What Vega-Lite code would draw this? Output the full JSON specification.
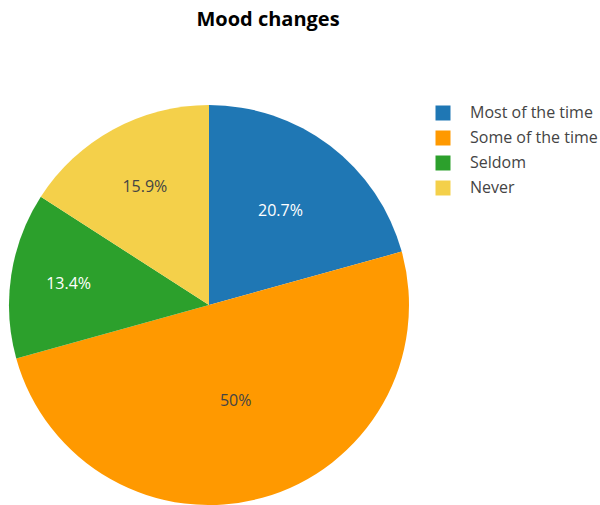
{
  "$schema": "https://vega.github.io/schema/vega-lite/v6.json",
  "width": 418,
  "height": 400,
  "padding": {"top": 10, "left": 0, "right": 0, "bottom": 0},
  "background": "white",
  "title": {"text": "Mood changes", "font": "Open Sans", "fontSize": 20, "fontWeight": "bold", "color": "#000", "anchor": "middle", "dx": 59, "offset": 75},
  "data": {"values": [
    {"category": "Most of the time", "percent": 20.7, "label": "20.7%", "rank": 1},
    {"category": "Some of the time", "percent": 50, "label": "50%", "rank": 2},
    {"category": "Seldom", "percent": 13.4, "label": "13.4%", "rank": 3},
    {"category": "Never", "percent": 15.9, "label": "15.9%", "rank": 4}
  ]},
  "encoding": {
    "theta": {"field": "percent", "type": "quantitative", "stack": true},
    "order": {"field": "rank", "type": "quantitative"}
  },
  "layer": [
    {
      "mark": {"type": "arc", "outerRadius": 200, "stroke": "white", "strokeWidth": 0},
      "encoding": {
        "color": {"field": "category", "type": "nominal",
          "scale": {"domain": ["Most of the time", "Some of the time", "Seldom", "Never"], "range": ["#1f77b4", "#ff9900", "#2ca02c", "#f4d04a"]},
          "legend": {"title": null, "orient": "right", "offset": 17, "symbolType": "square", "symbolSize": 225, "symbolStrokeWidth": 0, "symbolOpacity": 1, "labelFont": "Open Sans", "labelFontSize": 16, "labelColor": "#444", "labelOffset": 19, "rowPadding": 9, "padding": 0}
        }
      }
    },
    {
      "mark": {"type": "text", "font": "Open Sans", "fontSize": 16, "radius": {"expr": "datum.category === 'Most of the time' ? 118 : datum.category === 'Some of the time' ? 100 : datum.category === 'Seldom' ? 142 : 134"}},
      "encoding": {
        "text": {"field": "label"},
        "color": {"condition": {"test": "datum.category === 'Most of the time' || datum.category === 'Seldom'", "value": "white"}, "value": "#444"}
      }
    }
  ],
  "config": {"view": {"stroke": null}}
}
